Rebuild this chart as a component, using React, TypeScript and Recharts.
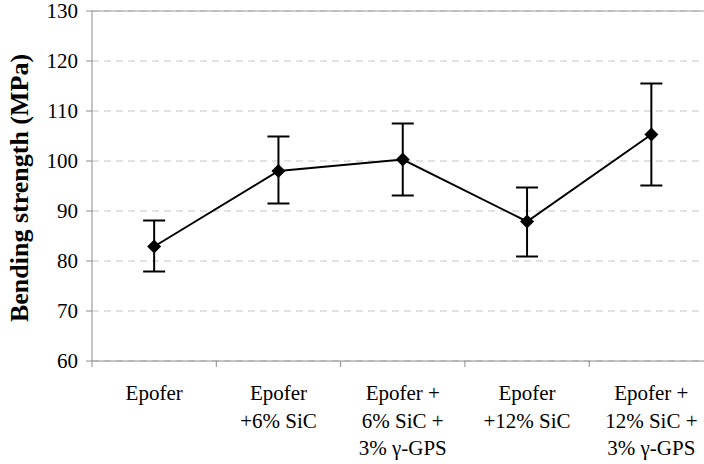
import React from 'react';
import { ComposedChart, Line, XAxis, YAxis, CartesianGrid, ErrorBar, ReferenceLine } from 'recharts';

const categories: string[][] = [
  ['Epofer'],
  ['Epofer', '+6% SiC'],
  ['Epofer +', '6% SiC +', '3% γ-GPS'],
  ['Epofer', '+12% SiC'],
  ['Epofer +', '12% SiC +', '3% γ-GPS'],
];
const means = [82.9, 98.0, 100.3, 87.9, 105.3];
const upper = [88.1, 104.9, 107.5, 94.7, 115.5];
const lower = [77.9, 91.5, 93.1, 80.9, 95.1];
const yTicks = [60, 70, 80, 90, 100, 110, 120, 130];
const boundaryTicks = [0, 1, 2, 3, 4, 5];
const centerTicks = [0.5, 1.5, 2.5, 3.5, 4.5];

const data = means.map((m, i) => ({
  pos: i + 0.5,
  mean: m,
  err: [+(m - lower[i]).toFixed(2), +(upper[i] - m).toFixed(2)],
}));

const FONT = 'Liberation Serif';

const Diamond = (props: any) => {
  const { cx, cy } = props;
  if (cx == null || cy == null) return null;
  const r = 7;
  return <path d={`M${cx},${cy - r}L${cx + r},${cy}L${cx},${cy + r}L${cx - r},${cy}Z`} fill="#000" />;
};

const CatTick = (props: any) => {
  const { x, y, payload } = props;
  const idx = Math.round(payload.value - 0.5);
  const lines = categories[idx] || [];
  return (
    <text x={x} y={y} textAnchor="middle" fontFamily={FONT} fontSize={21} fill="#000">
      {lines.map((l, i) => (
        <tspan key={i} x={x} y={y + 25 + i * 27.5}>{l}</tspan>
      ))}
    </text>
  );
};

const YTitle = (props: any) => {
  const vb = props.viewBox || { x: 0, y: 0, width: 0, height: 0 };
  const cx = 28;
  const cy = vb.y + vb.height / 2 + 2;
  return (
    <text
      x={cx}
      y={cy}
      transform={`rotate(-90, ${cx}, ${cy})`}
      textAnchor="middle"
      fontFamily={FONT}
      fontWeight="bold"
      fontSize={26}
      fill="#000"
    >
      Bending strength (MPa)
    </text>
  );
};

export default function App() {
  return (
    <div style={{ position: 'absolute', left: 0, top: 0, width: 704, height: 464, overflow: 'hidden' }}>
      <ComposedChart
        width={720}
        height={464}
        data={data}
        margin={{ top: 11, right: 6.5, left: 0, bottom: 0 }}
      >
        <CartesianGrid xAxisId="b" vertical={false} stroke="#c4c4c4" strokeDasharray="7 5" />
        <XAxis
          xAxisId="b"
          dataKey="pos"
          type="number"
          domain={[0, 5]}
          ticks={boundaryTicks}
          tickFormatter={() => ''}
          tickSize={6}
          height={6}
          stroke="#8c8c8c"
        />
        <XAxis
          xAxisId="l"
          dataKey="pos"
          type="number"
          domain={[0, 5]}
          ticks={centerTicks}
          axisLine={false}
          tickLine={false}
          tick={<CatTick />}
          height={97}
          interval={0}
        />
        <YAxis
          domain={[60, 130]}
          ticks={yTicks}
          width={92}
          tickSize={6}
          tickMargin={8}
          interval={0}
          stroke="#8c8c8c"
          tick={{ fontFamily: FONT, fontSize: 21, fill: '#000' }}
          label={<YTitle />}
        />
        <ReferenceLine xAxisId="b" y={130} stroke="#9a9a9a" strokeWidth={1} />
        <Line
          xAxisId="b"
          dataKey="mean"
          stroke="#000"
          strokeWidth={2}
          dot={<Diamond />}
          activeDot={false}
          isAnimationActive={false}
        >
          <ErrorBar dataKey="err" direction="y" width={11} strokeWidth={2} stroke="#000" isAnimationActive={false} />
        </Line>
      </ComposedChart>
    </div>
  );
}
